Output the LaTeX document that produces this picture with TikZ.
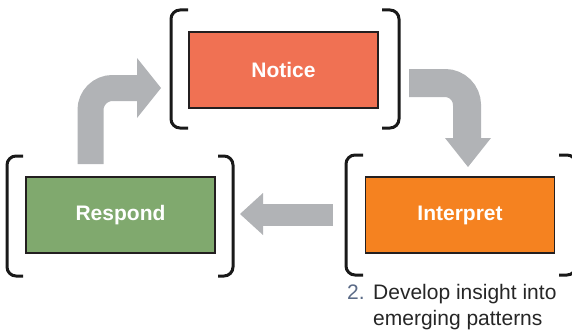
\documentclass[tikz,border=0pt]{standalone}
\usepackage{fontspec}
\setmainfont{Liberation Sans}
\begin{document}
\begin{tikzpicture}[x=1pt,y=-1pt,
  stepbox/.style={draw=boxline,line width=1.5pt,minimum width=189pt,minimum height=76pt,inner sep=0pt,
    text=white,font=\fontsize{21}{24}\selectfont\bfseries},
  bracket/.style={draw=black!90,line width=3pt,rounded corners=9pt},
  garrow/.style={draw=arrowgray,line width=#1,rounded corners=22pt},
  ghead/.style={fill=arrowgray},
  caption/.style={anchor=base west,inner sep=0pt,font=\fontsize{21}{24}\selectfont}]
\definecolor{boxline}{HTML}{231F20}
\definecolor{arrowgray}{HTML}{B1B3B6}
\definecolor{noticec}{HTML}{F07153}
\definecolor{interpc}{HTML}{F58220}
\definecolor{respc}{HTML}{80A96E}
\definecolor{numc}{HTML}{5B6B87}
\useasboundingbox (0,0) rectangle (572,329);
\clip (0,0) rectangle (572,329);
% boxes
\node[stepbox,fill=noticec] (notice) at (283.5,70) {Notice};
\node[stepbox,fill=interpc] (interpret) at (460,215) {Interpret};
\node[stepbox,fill=respc] (respond) at (120.5,215) {Respond};
% brackets
\draw[bracket] (188,10) -- (171,10) -- (171,128) -- (188,128);
\draw[bracket] (382,10) -- (399,10) -- (399,128) -- (382,128);
\draw[bracket] (23,156) -- (7,156) -- (7,276) -- (23,276);
\draw[bracket] (218,156) -- (233,156) -- (233,276) -- (218,276);
\draw[bracket] (363,155) -- (346,155) -- (346,275) -- (363,275);
\draw[bracket] (559,155) -- (576,155) -- (576,275) -- (559,275);
% arrow respond -> notice
\coordinate (a1s) at (90.5,164);
\coordinate (a1c) at (90.5,88);
\coordinate (a1e) at (138,88);
\draw[garrow=26pt] (a1s) -- (a1c) -- (a1e);
\fill[ghead] (137,58) -- (161,88) -- (137,118) -- cycle;
% arrow notice -> interpret
\coordinate (a2s) at (409,83);
\coordinate (a2c) at (467,83);
\coordinate (a2e) at (467,139);
\draw[garrow=28pt] (a2s) -- (a2c) -- (a2e);
\fill[ghead] (445,138) -- (491,138) -- (468,167) -- cycle;
% arrow interpret -> respond
\coordinate (a3s) at (333,215);
\coordinate (a3e) at (262,215);
\draw[draw=arrowgray,line width=22pt] (a3s) -- (a3e);
\fill[ghead] (263,193) -- (263,235) -- (240,214) -- cycle;
% caption
\node[caption,text=numc] (num) at (347,299) {2.};
\node[caption,text=black!85] (cap1) at (373,299) {Develop insight into};
\node[caption,text=black!85] (cap2) at (373,325) {emerging patterns};
\end{tikzpicture}
\end{document}
